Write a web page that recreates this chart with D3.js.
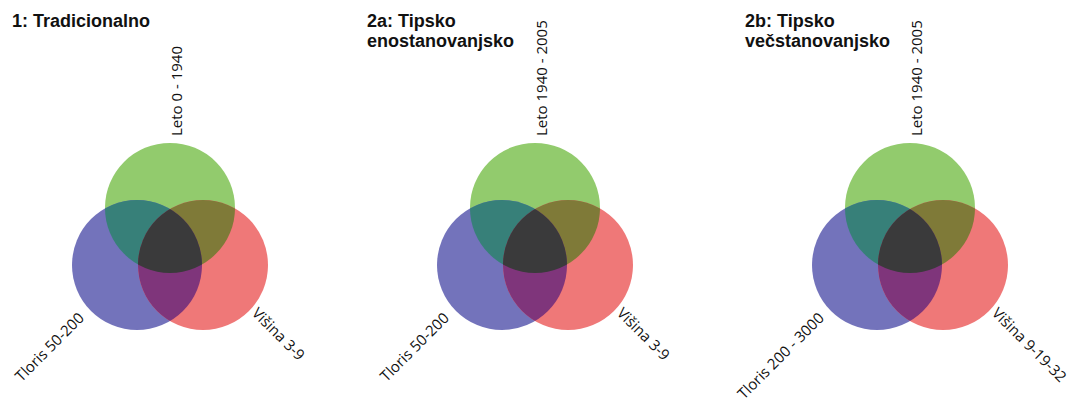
<!DOCTYPE html>
<html>
<head>
<meta charset="utf-8">
<script src="https://cdn.jsdelivr.net/npm/d3@7/dist/d3.min.js"></script>
<style>
  html, body { margin: 0; padding: 0; background: #ffffff; }
  svg { display: block; }
</style>
</head>
<body>
<svg id="chart" width="1072" height="405"></svg>
<script>
// ---- data ----
const titles = [["1: Tradicionalno"], ["2a: Tipsko", "enostanovanjsko"], ["2b: Tipsko", "večstanovanjsko"]];
const topLabels = ["Leto 0 - 1940", "Leto 1940 - 2005", "Leto 1940 - 2005"];
const leftLabels = ["Tloris 50-200", "Tloris 50-200", "Tloris 200 - 3000"];
const rightLabels = ["Višina 3-9", "Višina 3-9", "Višina 9-19-32"];
const setNames = ["Leto", "Tloris", "Višina"];
const setColors = ["#92cb6d", "#7373bb", "#ef7878"];
const pairColors = { "0-1": "#378079", "0-2": "#7f7a38", "1-2": "#7f357b" };
const tripleColor = "#3a3a3b";

// ---- layout ----
const W = 1072, H = 405;
const chartCenters = [170, 535, 910];  // x of triangle centroid
const centroidY = 246;
const titleX = [12, 367, 745];
const side = 66;        // distance between circle centres (px)
const radiusUnits = 0.985;

const svg = d3.select("#chart");
const unit = d3.scaleLinear().domain([0, 1]).range([0, side]);
const s3 = Math.sqrt(3);
const unitPos = [[0, -1 / s3], [-0.5, 1 / (2 * s3)], [0.5, 1 / (2 * s3)]];

const defs = svg.append("defs");

chartCenters.forEach((cx, i) => {
  const xs = d3.scaleLinear().domain([0, 1]).range([cx, cx + side]);
  const ys = d3.scaleLinear().domain([0, 1]).range([centroidY, centroidY + side]);
  const circles = unitPos.map((p, k) => ({ k, x: xs(p[0]), y: ys(p[1]), r: unit(radiusUnits) }));

  circles.forEach(c => {
    defs.append("clipPath").attr("id", `clip-${i}-${c.k}`)
      .append("circle").attr("cx", c.x).attr("cy", c.y).attr("r", c.r);
  });

  const g = svg.append("g").attr("class", "venn");

  g.selectAll("circle.set").data(circles).join("circle")
    .attr("class", "set")
    .attr("cx", d => d.x).attr("cy", d => d.y).attr("r", d => d.r)
    .attr("fill", d => setColors[d.k]);

  Object.entries(pairColors).forEach(([key, col]) => {
    const [a, b] = key.split("-").map(Number);
    g.append("circle")
      .attr("cx", circles[b].x).attr("cy", circles[b].y).attr("r", circles[b].r)
      .attr("clip-path", `url(#clip-${i}-${a})`)
      .attr("fill", col);
  });

  g.append("g").attr("clip-path", `url(#clip-${i}-0)`)
    .append("circle")
    .attr("cx", circles[2].x).attr("cy", circles[2].y).attr("r", circles[2].r)
    .attr("clip-path", `url(#clip-${i}-1)`)
    .attr("fill", tripleColor);

  // titles
  const t = svg.append("text")
    .attr("x", titleX[i]).attr("y", 27)
    .attr("font-family", "'Liberation Sans', Arial, sans-serif")
    .attr("font-weight", "bold").attr("font-size", 18).attr("fill", "#111");
  titles[i].forEach((line, j) => {
    t.append("tspan").attr("x", titleX[i]).attr("dy", j === 0 ? 0 : 20).text(line);
  });

  const labelFont = "'Open Sans', 'DejaVu Sans', sans-serif";
  svg.append("text")
    .attr("transform", `translate(${cx + 12},${centroidY - 110}) rotate(-90)`)
    .attr("text-anchor", "start")
    .attr("font-family", labelFont).attr("font-size", 15).attr("fill", "#111")
    .text(topLabels[i]);
  svg.append("text")
    .attr("transform", `translate(${cx - 85},${centroidY + 73}) rotate(-45)`)
    .attr("text-anchor", "end")
    .attr("font-family", labelFont).attr("font-size", 15).attr("fill", "#111")
    .text(leftLabels[i]);
  svg.append("text")
    .attr("transform", `translate(${cx + 81},${centroidY + 68}) rotate(45)`)
    .attr("text-anchor", "start")
    .attr("font-family", labelFont).attr("font-size", 15).attr("fill", "#111")
    .text(rightLabels[i]);
});
</script>
</body>
</html>
